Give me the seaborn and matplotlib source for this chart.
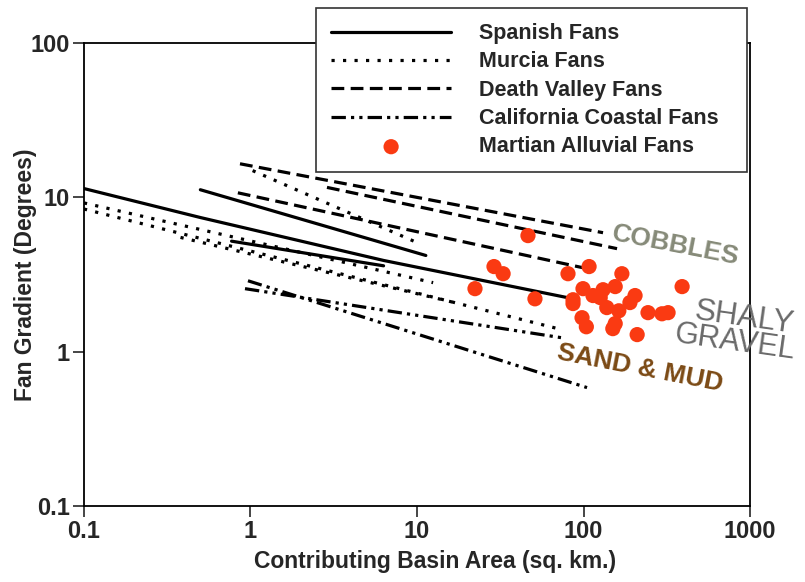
import matplotlib
matplotlib.use("Agg")
import matplotlib.pyplot as plt
import matplotlib.ticker as mticker
import seaborn as sns

# Spanish fans (solid)
spanish_x = [[0.1, 0.5, 6.3, 80], [0.5, 11.3], [0.77, 6.3]]
spanish_y = [[11.4, 7.4, 3.9, 2.24], [11.2, 4.2], [5.2, 3.6]]

# Murcia fans (dotted)
murcia_x = [[0.1, 12.5], [0.1, 72], [0.38, 16.8], [1.03, 10.4]]
murcia_y = [[9.2, 2.8], [8.4, 1.4], [5.5, 2.08], [14.9, 5.0]]

# Death Valley fans (dashed)
death_x = [[0.865, 131], [2.88, 159], [0.84, 99]]
death_y = [[16.5, 5.9], [11.6, 4.65], [10.7, 3.5]]

# California coastal fans (dash-dot-dot)
calif_x = [[0.966, 105], [0.927, 74.3]]
calif_y = [[2.88, 0.585], [2.56, 1.23]]

# Martian alluvial fans
mars_area = [46.4, 29.0, 32.9, 22.3, 51.1, 80.7, 108, 170, 99.3, 86.5, 86.5,
             131, 155, 204, 391, 244, 296, 322, 98, 104, 155, 150, 210, 163,
             190, 126, 138, 114]
mars_grad = [5.65, 3.56, 3.2, 2.56, 2.2, 3.2, 3.56, 3.2, 2.56, 2.17, 2.05,
             2.52, 2.64, 2.31, 2.64, 1.79, 1.76, 1.79, 1.66, 1.45, 1.52, 1.41,
             1.29, 1.84, 2.08, 2.24, 1.93, 2.31]

x_ticks = [0.1, 1, 10, 100, 1000]
y_ticks = [0.1, 1, 10, 100]

sns.set_style("white")
plt.rcParams["font.family"] = ["Liberation Sans", "DejaVu Sans"]

fig = plt.figure(figsize=(8.05, 5.82), dpi=100)
ax = fig.add_axes([0.1043, 0.1306, 0.8274, 0.7955])

groups = [
    ("Spanish Fans", spanish_x, spanish_y, "-"),
    ("Murcia Fans", murcia_x, murcia_y, (0, (1, 2.6))),
    ("Death Valley Fans", death_x, death_y, (0, (4, 2))),
    ("California Coastal Fans", calif_x, calif_y, (0, (4.5, 1.6, 1, 1.6, 1, 1.6))),
]
for name, xs, ys, ls in groups:
    for i, (xv, yv) in enumerate(zip(xs, ys)):
        sns.lineplot(x=xv, y=yv, ax=ax, color="black", linewidth=2.3,
                     linestyle=ls, sort=False, estimator=None,
                     label=name if i == 0 else None)

sns.scatterplot(x=mars_area, y=mars_grad, ax=ax, color="#fa3a12", s=120,
                edgecolor="none", label="Martian Alluvial Fans", zorder=5)

ax.set_xscale("log")
ax.set_yscale("log")
ax.set_xlim(0.1, 1000)
ax.set_ylim(0.1, 100)
ax.xaxis.set_major_locator(mticker.FixedLocator(x_ticks))
ax.yaxis.set_major_locator(mticker.FixedLocator(y_ticks))
ax.xaxis.set_minor_locator(mticker.NullLocator())
ax.yaxis.set_minor_locator(mticker.NullLocator())
ax.set_xticklabels([f"{v:g}" for v in x_ticks])
ax.set_yticklabels([f"{v:g}" for v in y_ticks])
ax.tick_params(axis="both", direction="out", length=8, width=1.2,
               labelsize=17, bottom=True, left=True, top=False, right=False,
               pad=2)
for lab in ax.get_xticklabels() + ax.get_yticklabels():
    lab.set_fontweight("bold")
for sp in ax.spines.values():
    sp.set_color("black")
    sp.set_linewidth(1.3)

ax.set_xlabel("Contributing Basin Area (sq. km.)", fontsize=16.5,
              fontweight="bold")
ax.set_ylabel("Fan Gradient (Degrees)", fontsize=16.5, fontweight="bold")
ax.xaxis.set_label_coords(0.527, -0.096)
ax.yaxis.set_label_coords(-0.07, 0.5)

ax.text(355, 4.86, "COBBLES", color="#868a78", fontsize=19,
        fontweight="bold", rotation=-11, ha="center", va="center")
ax.text(920, 1.64, "SHALY", color="#6a6a6a", fontsize=22.5, rotation=-8,
        ha="center", va="center", clip_on=False)
ax.text(815, 1.14, "GRAVEL", color="#6a6a6a", fontsize=22, rotation=-8,
        ha="center", va="center", clip_on=False)
ax.text(218, 0.776, "SAND & MUD", color="#7b4a15", fontsize=19,
        fontweight="bold", rotation=-11, ha="center", va="center")

leg = ax.legend(loc="upper left", bbox_to_anchor=(0.348, 1.0756, 0.6475, 0.0),
                mode="expand", frameon=True, fancybox=False, framealpha=1,
                edgecolor="#333333", handlelength=5.6,
                handletextpad=1.3, labelspacing=0.34, borderpad=0.7,
                borderaxespad=0, scatterpoints=1,
                prop={"weight": "bold", "size": 15.5})
leg.get_frame().set_linewidth(1.2)

fig.savefig("out.png", dpi=100)
